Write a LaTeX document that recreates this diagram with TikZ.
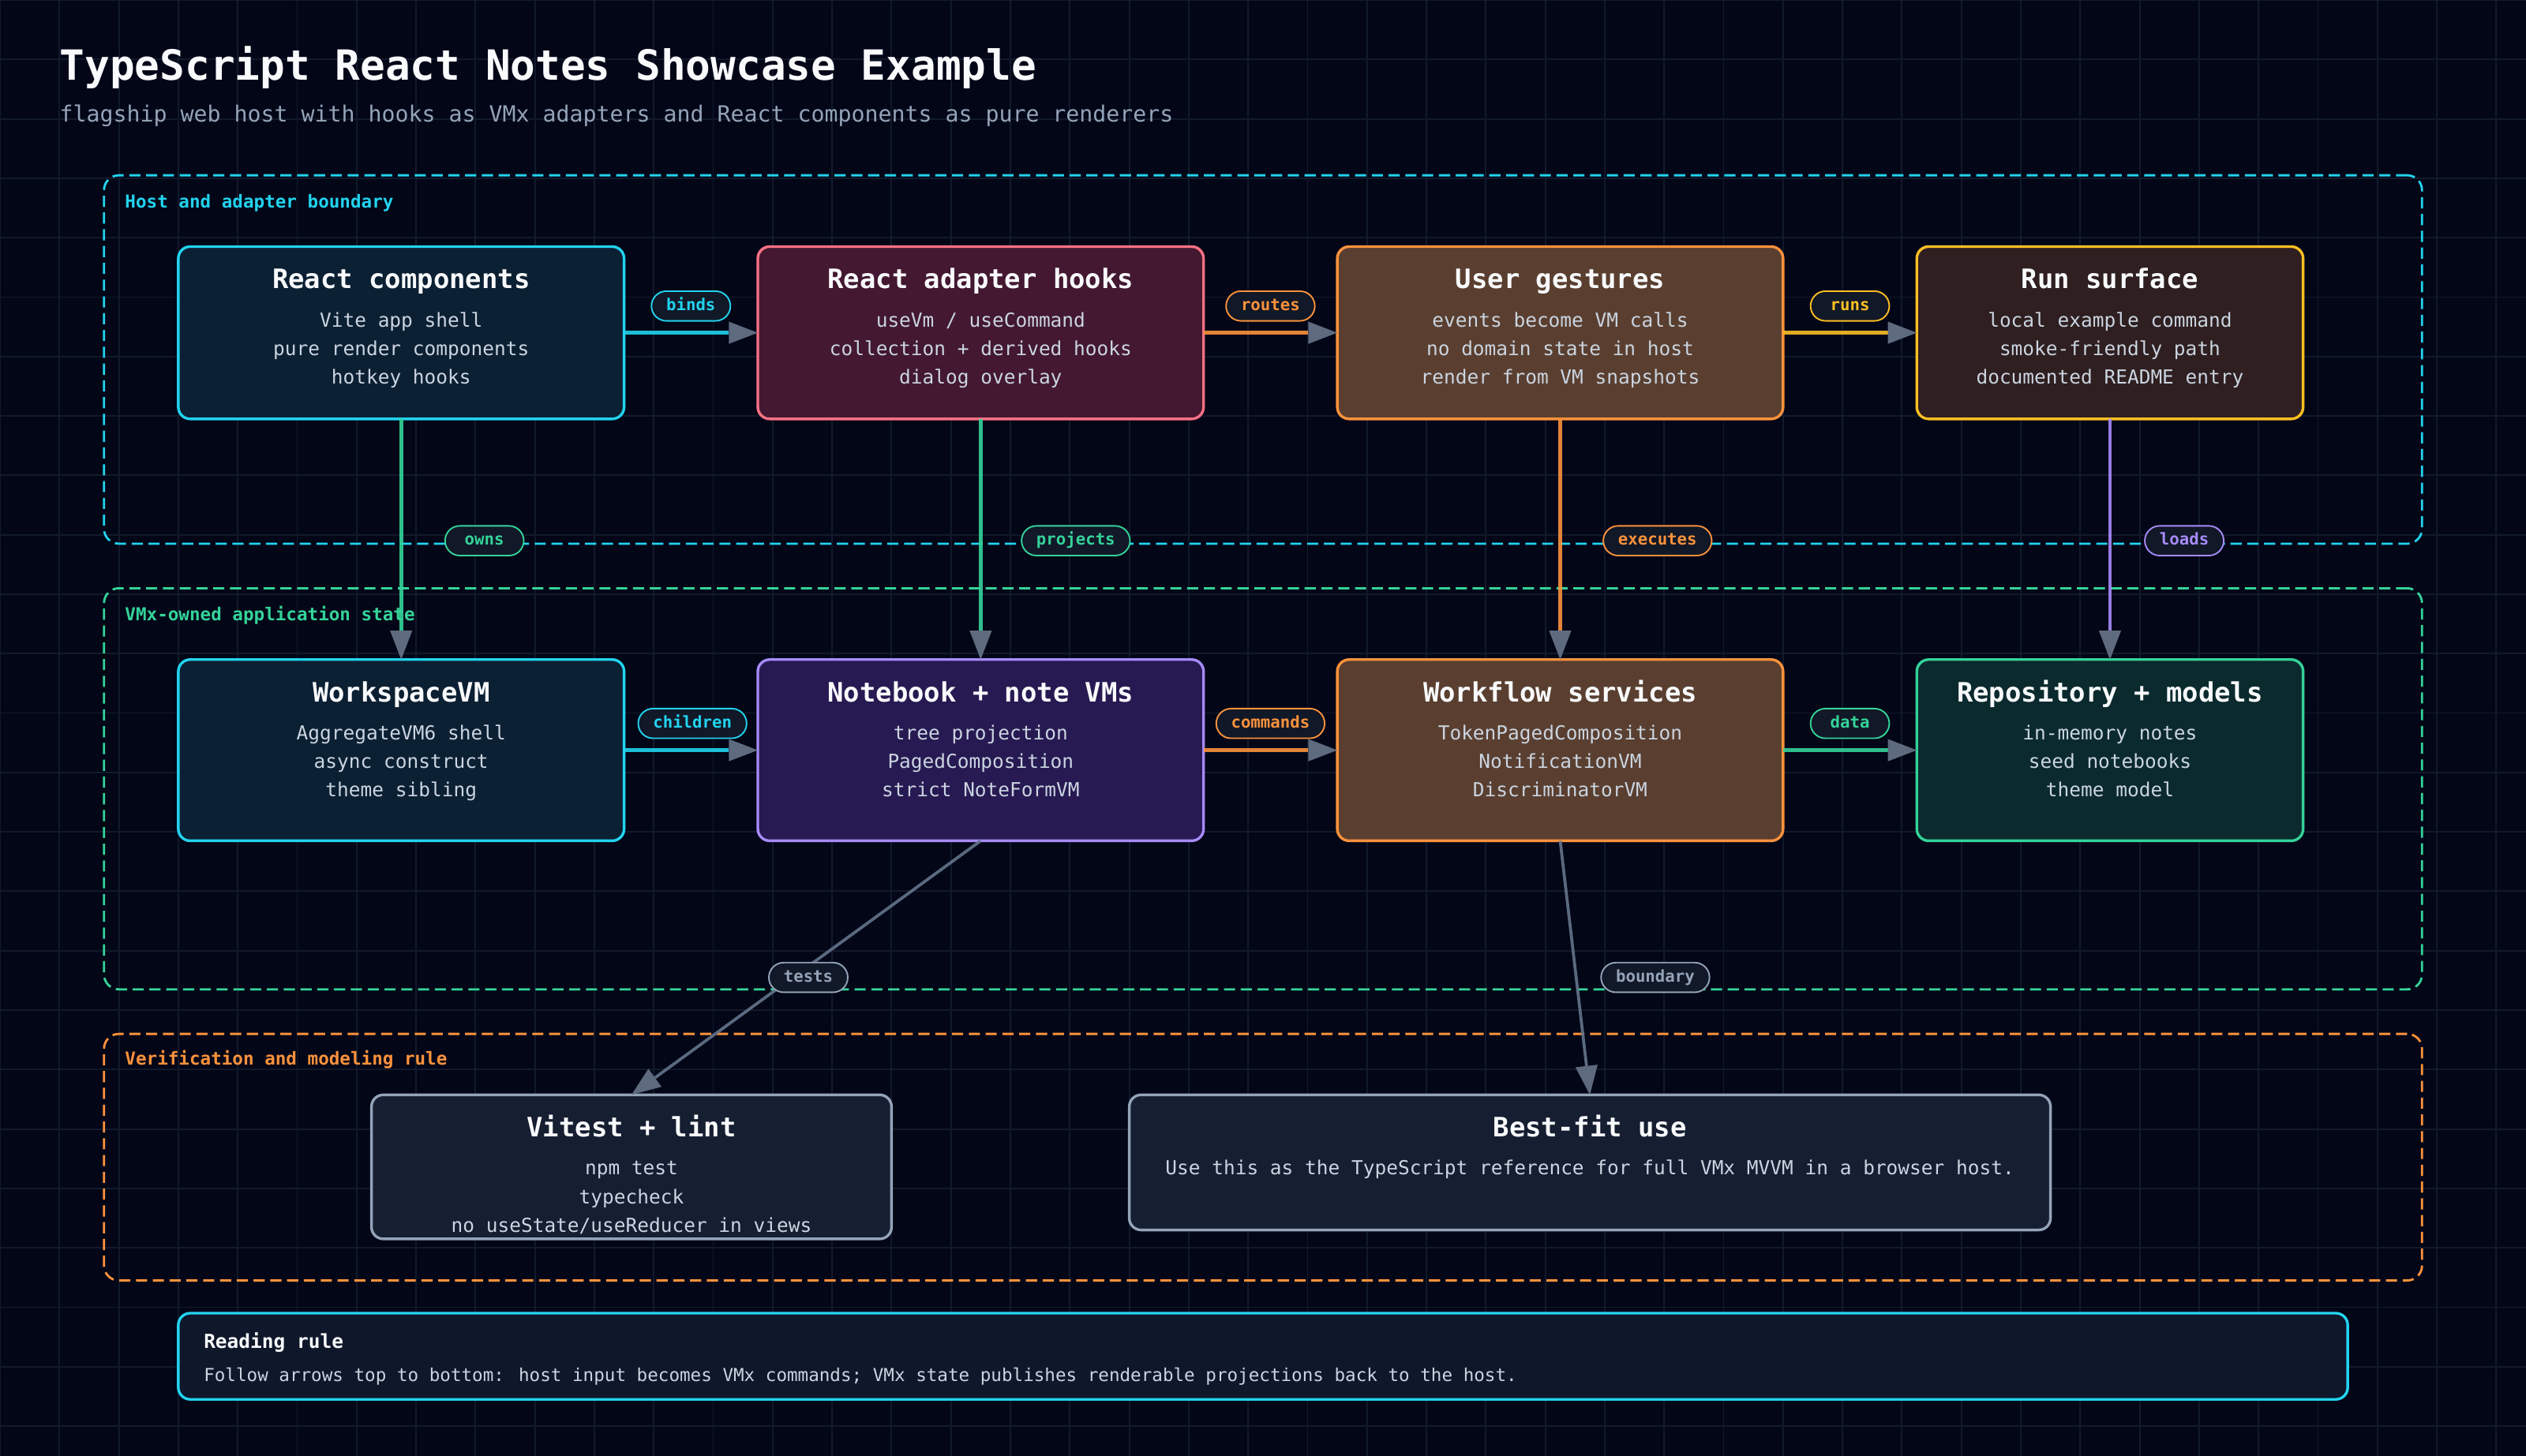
\documentclass[tikz,border=0pt]{standalone}
\usepackage{fontspec}
\setmainfont{DejaVu Sans Mono}
\usetikzlibrary{arrows.meta,calc}
\definecolor{bgc}{HTML}{020617}
\definecolor{gridc}{HTML}{111A2B}
\definecolor{titlec}{HTML}{F8FAFC}
\definecolor{subc}{HTML}{94A3B8}
\definecolor{bodyc}{HTML}{CBD5E1}
\definecolor{cyanc}{HTML}{22D3EE}
\definecolor{greenc}{HTML}{34D399}
\definecolor{orangec}{HTML}{FB923C}
\definecolor{yellowc}{HTML}{FBBF24}
\definecolor{purplec}{HTML}{A78BFA}
\definecolor{pinkc}{HTML}{FB7185}
\definecolor{grayc}{HTML}{94A3B8}
\definecolor{arrowc}{HTML}{5E6A7E}
\definecolor{diagc}{HTML}{64748B}
\definecolor{pillc}{HTML}{111827}
\definecolor{navyf}{HTML}{0C2033}
\definecolor{maroonf}{HTML}{431830}
\definecolor{brownf}{HTML}{5A3F30}
\definecolor{dbrownf}{HTML}{2F1F20}
\definecolor{purplef}{HTML}{271A52}
\definecolor{tealf}{HTML}{0B2A2E}
\definecolor{slatef}{HTML}{161E31}
\definecolor{notef}{HTML}{0F172A}
\newcommand\mkbox[8]{%
  \node[boxbase,#6,minimum width=#4pt,minimum height=#5pt] (#1) at (#2,#3) {};
  \node[titletext] (#1-t) at ($(#1.north)+(0,28.4)$) {#7};
  \foreach \ltext [count=\i] in {#8} {
    \node[bodytext] (#1-l\i) at ($(#1.north)+(0,{54+19.2*(\i-1)})$) {\ltext};
  }%
}
\begin{document}
\begin{tikzpicture}[x=1pt,y=-1pt,
  gridline/.style={draw=gridc,line width=1pt},
  grp/.style={draw,dash pattern=on 7.5pt off 3.8pt,line width=1.5pt,rounded corners=10pt,anchor=north west,outer sep=0pt,inner sep=0pt},
  grplabel/.style={anchor=base west,inner sep=0pt,font=\fontsize{12}{14}\selectfont\bfseries},
  boxbase/.style={draw,line width=1.8pt,rounded corners=8pt,anchor=north west,outer sep=0pt,inner sep=0pt},
  titletext/.style={anchor=base,inner sep=0pt,text=titlec,font=\fontsize{18}{22}\selectfont\bfseries},
  bodytext/.style={anchor=base,inner sep=0pt,text=bodyc,font=\fontsize{13}{16}\selectfont},
  edge/.style={line width=2.5pt,draw opacity=0.9,-{Triangle[length=19.5pt,width=15pt,line width=0pt,color=arrowc]}},
  pill/.style={fill=pillc,line width=1pt,rounded corners=10pt,minimum height=20pt,minimum width=53pt,inner xsep=10pt,inner ysep=0pt,text height=8pt,text depth=2.2pt,font=\fontsize{11}{13}\selectfont\bfseries}
]
\useasboundingbox (0,0) rectangle (1700,980);
\fill[bgc] (0,0) rectangle (1700,980);
\foreach \gx in {0,40,...,1680} {\draw[gridline] (\gx,0) -- (\gx,980);}
\foreach \gy in {0,40,...,960} {\draw[gridline] (0,\gy) -- (1700,\gy);}

\node[anchor=base west,inner sep=0pt,text=titlec,font=\fontsize{28}{34}\selectfont\bfseries] (title) at (40,54) {TypeScript React Notes Showcase Example};
\node[anchor=base west,inner sep=0pt,text=subc,font=\fontsize{15}{18}\selectfont] (subtitle) at (40,82) {flagship web host with hooks as VMx adapters and React components as pure renderers};

% groups
\node[grp,draw=cyanc,minimum width=1560pt,minimum height=248pt] (g1) at (70,118) {};
\node[grplabel,text=cyanc] (g1-t) at ($(g1.north west)+(14,22)$) {Host and adapter boundary};
\node[grp,draw=greenc,minimum width=1560pt,minimum height=270pt] (g2) at (70,396) {};
\node[grplabel,text=greenc] (g2-t) at ($(g2.north west)+(14,22)$) {VMx-owned application state};
\node[grp,draw=orangec,minimum width=1560pt,minimum height=166pt] (g3) at (70,696) {};
\node[grplabel,text=orangec] (g3-t) at ($(g3.north west)+(14,21)$) {Verification and modeling rule};

% boxes
\mkbox{rc}{120}{166}{300}{116}{draw=cyanc,fill=navyf}{React components}{Vite app shell,pure render components,hotkey hooks}
\mkbox{rah}{510}{166}{300}{116}{draw=pinkc,fill=maroonf}{React adapter hooks}{useVm / useCommand,collection + derived hooks,dialog overlay}
\mkbox{ug}{900}{166}{300}{116}{draw=orangec,fill=brownf}{User gestures}{events become VM calls,no domain state in host,render from VM snapshots}
\mkbox{rs}{1290}{166}{260}{116}{draw=yellowc,fill=dbrownf}{Run surface}{local example command,smoke-friendly path,documented README entry}
\mkbox{ws}{120}{444}{300}{122}{draw=cyanc,fill=navyf}{WorkspaceVM}{AggregateVM6 shell,async construct,theme sibling}
\mkbox{nb}{510}{444}{300}{122}{draw=purplec,fill=purplef}{Notebook + note VMs}{tree projection,PagedComposition,strict NoteFormVM}
\mkbox{wf}{900}{444}{300}{122}{draw=orangec,fill=brownf}{Workflow services}{TokenPagedComposition,NotificationVM,DiscriminatorVM}
\mkbox{rp}{1290}{444}{260}{122}{draw=greenc,fill=tealf}{Repository + models}{in-memory notes,seed notebooks,theme model}
\mkbox{vt}{250}{737}{350}{97}{draw=grayc,fill=slatef}{Vitest + lint}{npm test,typecheck,no useState/useReducer in views}
\mkbox{bf}{760}{737}{620}{91}{draw=grayc,fill=slatef}{Best-fit use}{Use this as the TypeScript reference for full VMx MVVM in a browser host.}

% reading rule
\node[boxbase,draw=cyanc,fill=notef,minimum width=1460pt,minimum height=58pt] (rr) at (120,884) {};
\node[anchor=base west,inner sep=0pt,text=titlec,font=\fontsize{13}{16}\selectfont\bfseries] (rr-t) at ($(rr.north west)+(17,23.5)$) {Reading rule};
\node[anchor=base west,inner sep=0pt,text=bodyc,font=\fontsize{12}{14}\selectfont] (rr-l) at ($(rr.north west)+(17,45.7)$) {Follow arrows top to bottom: host input becomes VMx commands; VMx state publishes renderable projections back to the host.};

% edges
\draw[edge,cyanc] (rc.east) -- (rah.west);
\draw[edge,orangec] (rah.east) -- (ug.west);
\draw[edge,yellowc] (ug.east) -- (rs.west);
\draw[edge,cyanc] (ws.east) -- (nb.west);
\draw[edge,orangec] (nb.east) -- (wf.west);
\draw[edge,greenc] (wf.east) -- (rp.west);
\draw[edge,greenc] (rc.south) -- (ws.north);
\draw[edge,greenc] (rah.south) -- (nb.north);
\draw[edge,orangec] (ug.south) -- (wf.north);
\draw[edge,purplec] (rs.south) -- (rp.north);
\draw[edge,diagc,line width=2pt] (nb.south) -- (vt.north);
\draw[edge,diagc,line width=2pt] (wf.south) -- (bf.north);

% edge labels
\node[pill,draw=cyanc,text=cyanc] (p-binds) at (465,206) {binds};
\node[pill,draw=orangec,text=orangec] (p-routes) at (855,206) {routes};
\node[pill,draw=yellowc,text=yellowc] (p-runs) at (1245,206) {runs};
\node[pill,draw=greenc,text=greenc] (p-owns) at (326,364) {owns};
\node[pill,draw=greenc,text=greenc] (p-projects) at (724,364) {projects};
\node[pill,draw=orangec,text=orangec] (p-executes) at (1115.5,364) {executes};
\node[pill,draw=purplec,text=purplec] (p-loads) at (1470,364) {loads};
\node[pill,draw=cyanc,text=cyanc] (p-children) at (466,487) {children};
\node[pill,draw=orangec,text=orangec] (p-commands) at (855,487) {commands};
\node[pill,draw=greenc,text=greenc] (p-data) at (1245,487) {data};
\node[pill,draw=grayc,text=grayc] (p-tests) at (544,658) {tests};
\node[pill,draw=grayc,text=grayc] (p-boundary) at (1114,658) {boundary};
\end{tikzpicture}
\end{document}
